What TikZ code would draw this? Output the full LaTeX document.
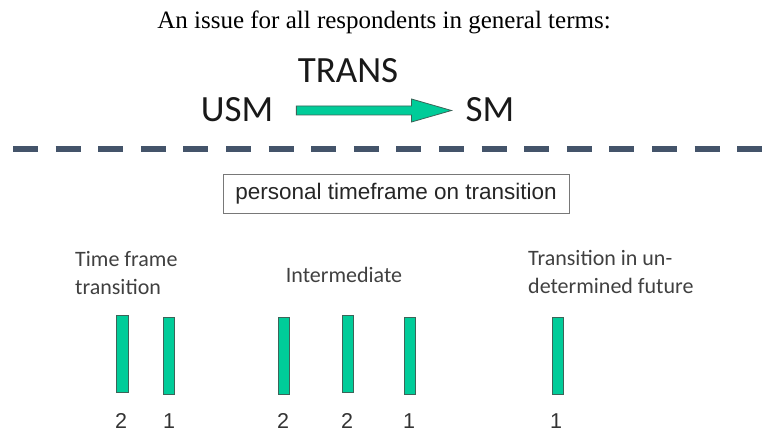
\documentclass[tikz,border=0pt]{standalone}
\usepackage{fontspec}
\setmainfont{Liberation Serif}
\newfontfamily\calfont{Carlito}
\newfontfamily\arialfont{Liberation Sans}
\usetikzlibrary{calc}
\definecolor{teal1}{RGB}{0,204,153}
\definecolor{tealedge}{RGB}{60,100,88}
\definecolor{slate}{RGB}{68,84,106}
\definecolor{labelgray}{RGB}{64,64,64}
\definecolor{boxedge}{RGB}{120,120,120}
\tikzset{
  bigword/.style={inner sep=0, anchor=base, text=black!90, font=\calfont\fontsize{37}{40}\selectfont},
  bar/.style={draw=tealedge, line width=0.8pt, fill=teal1, minimum width=11.5pt, minimum height=77pt, inner sep=0, anchor=north},
  num/.style={inner sep=0, anchor=base, text=black!80, font=\arialfont\fontsize{21.5}{24}\selectfont},
  grouplabel/.style={inner sep=0, text=labelgray, font=\calfont\fontsize{22}{28}\selectfont, align=left},
  blockarrow/.style={draw=tealedge, line width=0.8pt, fill=teal1},
  divider/.style={draw=slate, line width=6pt, dash pattern=on 25pt off 17.6pt},
}
\begin{document}
\begin{tikzpicture}[x=1pt,y=-1pt]
\useasboundingbox (0,0) rectangle (774,433);
\node[inner sep=0, anchor=base] (title) at (384,29) {\fontsize{25}{28}\selectfont An issue for all respondents in general terms:};
\node[bigword] (trans) at (348,83) {TRANS};
\node[bigword] (usm) at (237,122) {USM};
\node[bigword] (sm) at (490,122) {SM};
% block arrow from USM to SM
\coordinate (as) at ($(usm.east)+(23,0)$);
\coordinate (at) at ($(sm.west)+(-14,0)$);
\path (as |- 0,110.5) coordinate (a0) (at |- 0,110.5) coordinate (a1);
\draw[blockarrow] ($(a0)+(0,-4.5)$) -- ($(a1)+(-40,-4.5)$) -- ($(a1)+(-40,-11.5)$) -- (a1) -- ($(a1)+(-40,11.5)$) -- ($(a1)+(-40,4.5)$) -- ($(a0)+(0,4.5)$) -- cycle;
% divider
\coordinate (dl) at (13,149.5);
\coordinate (dr) at (763,149.5);
\draw[divider] (dl) -- (dr);
% box
\node[draw=boxedge, line width=0.7pt, minimum width=346pt, minimum height=39pt, inner sep=0, font=\arialfont\fontsize{22.5}{24}\selectfont, text=black!85] (pbox) at (396,193.5) {personal timeframe on transition};
% group labels
\node[grouplabel, anchor=north west] (lab1) at (75,251) {Time frame\\transition};
\node[grouplabel, anchor=base] (lab2) at (344,282) {Intermediate};
\node[grouplabel, anchor=north west] (lab3) at (528,250) {Transition in un-\\determined future};
% bars
\node[bar] (b1) at (122.5,315) {};
\node[bar] (b2) at (169,317) {};
\node[bar] (b3) at (284,317) {};
\node[bar] (b4) at (348,315) {};
\node[bar] (b5) at (410,317) {};
\node[bar] (b6) at (558,317) {};
% numbers
\node[num] (n1) at (121,428) {2};
\node[num] (n2) at (169,428) {1};
\node[num] (n3) at (283,428) {2};
\node[num] (n4) at (347,428) {2};
\node[num] (n5) at (409,428) {1};
\node[num] (n6) at (556,428) {1};
\end{tikzpicture}
\end{document}
